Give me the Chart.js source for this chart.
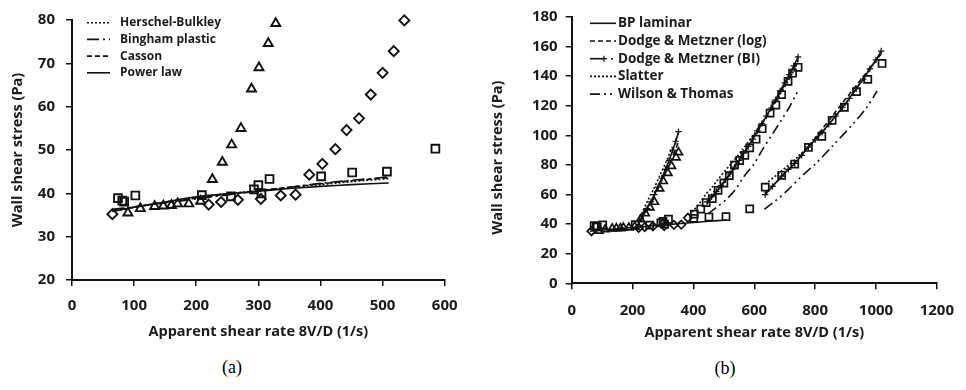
<!DOCTYPE html>
<html><head><meta charset="utf-8">
<script src="https://cdn.jsdelivr.net/npm/chart.js@4.4.0/dist/chart.umd.min.js"></script>
<style>
html,body{margin:0;padding:0;background:#fff;width:966px;height:390px;overflow:hidden;}
.wrap{position:absolute;top:0;height:345px;width:483px;}
#wa{left:0} #wb{left:483px}
.cap{position:absolute;font-family:'Liberation Serif',serif;font-size:18px;color:#000;transform:translate(-50%,-50%);}
</style></head><body>
<div class="wrap" id="wa"><canvas id="ca"></canvas></div>
<div class="wrap" id="wb"><canvas id="cb"></canvas></div>
<div class="cap" style="left:232px;top:367px">(a)</div>
<div class="cap" style="left:725px;top:368px">(b)</div>
<script>
// ===== Chart (a) data =====
const aTriX = [90,110,133,147,160,170,188,207,226,242,257,272,289,301,316,328];
const aTriY = [35.5,36.5,37.0,37.1,37.2,37.6,37.6,38.2,43.2,47.2,51.2,55.0,64.1,69.0,74.6,79.2];
const aDiaX = [65,220,240,267,304,336,360,382,403,424,442,462,481,500,518,535];
const aDiaY = [35.2,37.4,38.0,38.5,38.7,39.5,39.7,44.3,46.8,50.2,54.6,57.3,62.8,67.8,72.8,79.9];
const aSqX = [74,81,84,102,209,256,293,300,305,318,401,451,507,585];
const aSqY = [38.9,38.3,38.1,39.5,39.6,39.3,40.9,41.9,40.0,43.3,43.9,44.8,45.0,50.3];
const aFitX = [65,100,150,200,250,300,350,400,450,510];
const aHerschel = [35.9,36.8,38.0,39.1,39.9,40.6,41.3,42.0,42.7,43.4];
const aBingham = [36.3,36.9,37.8,38.7,39.6,40.5,41.4,42.3,43.0,43.8];
const aCasson = [36.0,36.8,37.9,38.9,39.8,40.6,41.4,42.2,42.9,43.6];
const aPower = [35.8,36.8,38.0,39.2,39.9,40.5,41.1,41.6,42.0,42.4];
const aXTicks = {min:0, max:600, step:100};
const aYTicks = {min:20, max:80, step:10};
const aLegend = ['Herschel-Bulkley','Bingham plastic','Casson','Power law'];

// ===== Chart (b) data =====
const bTriX = [90,110,133,147,160,170,188,207,226,242,257,272,289,301,316,328,343,351];
const bTriY = [35.5,36.5,37.0,37.1,37.2,37.6,37.6,38.2,43.2,47.2,51.2,55.0,64.0,69.0,74.5,79.2,85.0,88.5];
const bDiaX = [65,220,240,267,304,336,360,382];
const bDiaY = [35.2,37.4,38.0,38.5,38.7,39.5,39.7,44.3];
const bSqX = [74,81,84,102,209,256,293,300,305,318,401,451,507,585,
  403,424,442,462,481,500,518,535,552,569,585,606,626,652,671,690,711,726,744,
  636,690,733,778,822,856,896,936,973,1020];
const bSqY = [38.9,38.3,38.1,39.5,39.6,39.3,40.9,41.9,40.0,43.3,43.9,44.8,45.0,50.3,
  46.8,50.2,54.6,57.3,62.8,67.8,72.8,79.9,83.0,86.5,91.5,97.4,104.5,115.0,120.5,127.5,136.5,142.0,146.0,
  65.0,73.0,80.6,91.8,99.4,110.2,119.0,129.6,137.8,148.6];
const bLamX = [60,150,250,350,450,510];
const bLamY = [35.2,36.8,38.6,40.3,41.9,42.8];
const bLogLeftX = [228,260,290,320,350];
const bLogLeftY = [43,55,67,80,95];
const bLogMidX = [445,500,560,620,680,744];
const bLogMidY = [54,68,86,106,127,151];
const bLogRightX = [636,700,780,860,940,1017];
const bLogRightY = [61,74,93,114,135,155];
const bBILeftX = [222,235,248,260,272,284,296,308,320,332,342,351];
const bBILeftY = [42.5,46,50.5,55,60,65,71,77,83,90,96,102.5];
const bBIMidX = [445,460,475,490,505,520,535,550,565,580,595,610,625,640,655,670,685,700,715,730,744];
const bBIMidY = [55,58.5,62,66,70,74,78.5,83,88,92.5,97.5,103,108,113,118.5,124,130,135.5,141,147,153];
const bBIRightX = [636,660,690,712,733,756,778,800,823,845,867,890,912,935,958,980,1000,1017];
const bBIRightY = [60,65.5,72.5,77,81,86.5,92,97,102,107.5,113,119,125,131.5,138,145,151,157];
const bSlLeftX = [230,250,270,290,310,330];
const bSlLeftY = [47,56,64,73,82,92];
const bSlMidX = [395,420,440,460,480,520,560,600,640,680,720,744];
const bSlMidY = [48,54,60,64.5,70,80,90,101,113,126,140,150];
const bSlRightX = [636,690,746,800,856,900,940,980,1017];
const bSlRightY = [67,76,86,97,110,121,133,145,156];
const bWTMidX = [448,480,510,540,564,600,628,660,687,715,741];
const bWTMidY = [47,52,57,64,71.6,81,90.7,101,109.7,119,129];
const bWTRightX = [633,671,710,751,800,858,928,970,1004];
const bWTRightY = [50,56,63,71.5,80.5,93,108.5,119,130];
const bXTicks = {min:0, max:1200, step:200};
const bYTicks = {min:0, max:180, step:20};
const bLegend = ['BP laminar','Dodge & Metzner (log)','Dodge & Metzner (BI)','Slatter','Wilson & Thomas'];

const XTITLE = 'Apparent shear rate 8V/D (1/s)';
const YTITLE = 'Wall shear stress (Pa)';

// ===== helpers =====
const pts = (xs, ys) => xs.map((x, i) => ({x, y: ys[i]}));
const INK = '#111';
const TXT = '#1a1a1a';
const FAM = "'Open Sans'";
const DOT = [2,2], DASH = [5,3], DASHDOT = [12,4,2,4], DASHDOTDOT = [10,4,2,4,2,4];

function markers(data, style, r, bw) {
  return {data, showLine:false, pointStyle:style, pointRadius:r, pointHoverRadius:r,
    pointBorderColor:INK, pointBackgroundColor:'rgba(0,0,0,0)', pointBorderWidth:bw, clip:10};
}
function line(data, dash, extra) {
  return Object.assign({data, showLine:true, borderColor:INK, borderWidth:1.6, borderDash:dash,
    pointRadius:0, pointHoverRadius:0, fill:false, tension:0.3}, extra||{});
}

const legendPlugin = {
  id:'customLegend',
  afterDraw(chart, args, opts) {
    const ctx = chart.ctx;
    ctx.save();
    ctx.font = opts.font;
    ctx.fillStyle = TXT;
    ctx.textBaseline = 'middle';
    ctx.textAlign = 'left';
    opts.items.forEach((it, i) => {
      const y = opts.y0 + i * opts.dy;
      ctx.strokeStyle = INK;
      ctx.lineWidth = 1.6;
      ctx.setLineDash(it.dash || []);
      if (it.kind === 'bi') {
        ctx.setLineDash([]);
        ctx.beginPath(); ctx.moveTo(opts.x1, y); ctx.lineTo(opts.x1 + 14, y); ctx.stroke();
        ctx.lineWidth = 1.2;
        ctx.beginPath(); ctx.moveTo(opts.x1 + 14, y - 3); ctx.lineTo(opts.x1 + 14, y + 3);
        ctx.moveTo(opts.x1 + 11, y); ctx.lineTo(opts.x1 + 17, y); ctx.stroke();
        ctx.lineWidth = 1.6;
        ctx.beginPath(); ctx.moveTo(opts.x1 + 21, y); ctx.lineTo(opts.x1 + 23, y); ctx.stroke();
      } else {
        ctx.beginPath(); ctx.moveTo(opts.x1, y); ctx.lineTo(opts.x2, y); ctx.stroke();
      }
      ctx.setLineDash([]);
      ctx.fillText(it.text, opts.tx, y);
    });
    ctx.restore();
  }
};

function axes(xt, yt, yWidth, xHeight, yTitlePad, xTitlePad, xLabPad, yLabPad, yTitleText) {
  const tickFont = {family:FAM, weight:'bold', size:15};
  const titleFont = {family:FAM, weight:'bold', size:14.5};
  return {
    x: {type:'linear', min:xt.min, max:xt.max,
      ticks:{stepSize:xt.step, color:TXT, font:tickFont, padding:xLabPad, maxRotation:0, callback:v => String(v)},
      grid:{display:true, drawOnChartArea:false, drawTicks:true, tickLength:6, color:INK, lineWidth:1.5},
      border:{display:true, color:INK, width:2},
      title:{display:true, text:XTITLE, color:TXT, font:titleFont, padding:{top:0, bottom:xTitlePad}},
      afterFit(s){ s.height = xHeight; }
    },
    y: {type:'linear', min:yt.min, max:yt.max,
      ticks:{stepSize:yt.step, color:TXT, font:tickFont, padding:yLabPad, callback:v => String(v)},
      grid:{display:true, drawOnChartArea:false, drawTicks:true, tickLength:6, color:INK, lineWidth:1.5},
      border:{display:true, color:INK, width:2},
      title:{display:true, text:yTitleText, color:TXT, font:titleFont, padding:{top:yTitlePad, bottom:0}},
      afterFit(s){ s.width = yWidth; }
    }
  };
}

Chart.register(legendPlugin);

// ===== Chart (a) =====
new Chart(document.getElementById('ca'), {
  type:'scatter',
  data:{datasets:[
    line(pts(aFitX, aHerschel), DOT),
    line(pts(aFitX, aBingham), DASHDOT),
    line(pts(aFitX, aCasson), DASH),
    line(pts(aFitX, aPower), []),
    markers(pts(aTriX, aTriY), 'triangle', 5.2, 1.9),
    markers(pts(aDiaX, aDiaY), 'rectRot', 5, 1.9),
    markers(pts(aSqX, aSqY), 'rect', 5.5, 1.9)
  ]},
  options:{
    responsive:true, maintainAspectRatio:false, animation:false,
    layout:{padding:{left:0, right:38.3, top:15, bottom:0}},
    plugins:{legend:{display:false}, tooltip:{enabled:false},
      customLegend:{font:"bold 12px 'Open Sans'", x1:87, x2:110, tx:120, y0:22.7, dy:16.7,
        items:[{text:aLegend[0], dash:DOT},{text:aLegend[1], dash:DASHDOT},{text:aLegend[2], dash:DASH},{text:aLegend[3], dash:[]}]}},
    scales:axes(aXTicks, aYTicks, 72, 65, 9, 4, 11, 11, YTITLE)
  }
});

// ===== Chart (b) =====
const biStyle = {pointStyle:'cross', pointRadius:3.2, pointHoverRadius:3.2, pointBorderColor:INK, pointBorderWidth:1.2};
new Chart(document.getElementById('cb'), {
  type:'scatter',
  data:{datasets:[
    line(pts(bLamX, bLamY), []),
    line(pts(bLogLeftX, bLogLeftY), DASH),
    line(pts(bLogMidX, bLogMidY), DASH),
    line(pts(bLogRightX, bLogRightY), DASH),
    line(pts(bSlLeftX, bSlLeftY), DOT),
    line(pts(bSlMidX, bSlMidY), DOT),
    line(pts(bSlRightX, bSlRightY), DOT),
    line(pts(bWTMidX, bWTMidY), DASHDOTDOT),
    line(pts(bWTRightX, bWTRightY), DASHDOTDOT),
    line(pts(bBILeftX, bBILeftY), [], biStyle),
    line(pts(bBIMidX, bBIMidY), [], biStyle),
    line(pts(bBIRightX, bBIRightY), [], biStyle),
    markers(pts(bTriX, bTriY), 'triangle', 4.6, 1.7),
    markers(pts(bDiaX, bDiaY), 'rectRot', 4.2, 1.7),
    markers(pts(bSqX, bSqY), 'rect', 5, 1.7)
  ]},
  options:{
    responsive:true, maintainAspectRatio:false, animation:false,
    layout:{padding:{left:0, right:21.7, top:15, bottom:0}},
    plugins:{legend:{display:false}, tooltip:{enabled:false},
      customLegend:{font:"bold 13.5px 'Open Sans'", x1:107, x2:133, tx:135, y0:23.3, dy:17.7,
        items:[{text:bLegend[0], dash:[]},{text:bLegend[1], dash:DASH},{text:bLegend[2], kind:'bi'},{text:bLegend[3], dash:DOT},{text:bLegend[4], dash:DASHDOTDOT}]}},
    scales:axes(bXTicks, bYTicks, 88.7, 61.7, 6, 3, 12, 8, YTITLE + '\u00A0\u00A0\u00A0\u00A0')
  }
});
</script></body></html>
